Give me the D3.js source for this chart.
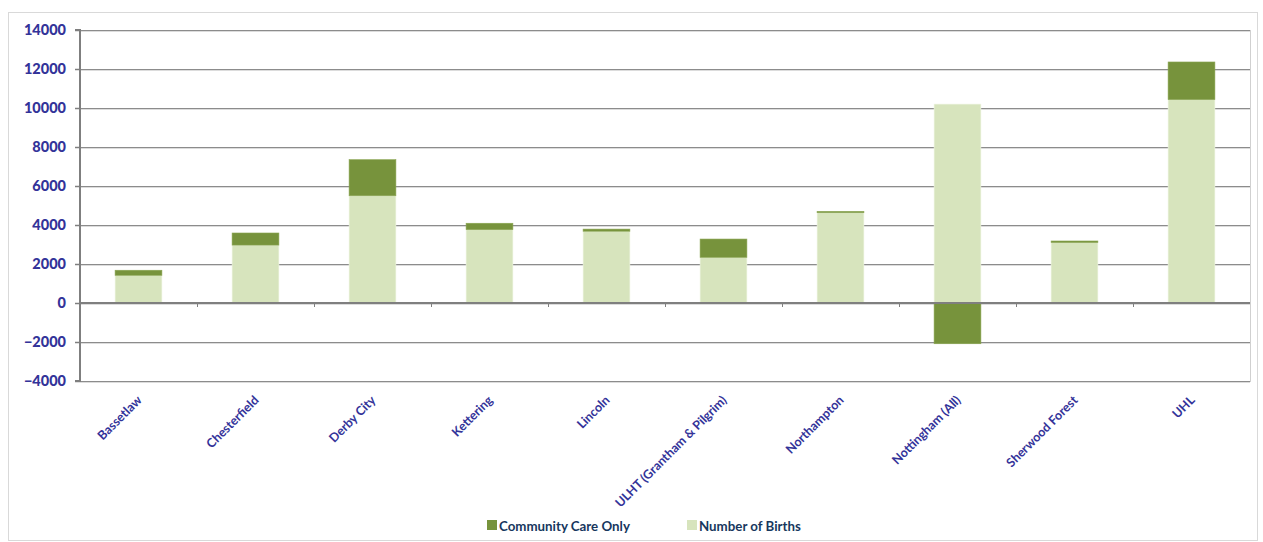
<!DOCTYPE html>
<html><head><meta charset="utf-8">
<script src="https://cdn.jsdelivr.net/npm/d3@7"></script>
<style>body{margin:0;background:#fff;}svg{display:block;}</style>
</head><body><svg id="c" width="1263" height="542"></svg>
<script>
const categories = ["Bassetlaw","Chesterfield","Derby City","Kettering","Lincoln","ULHT (Grantham & Pilgrim)","Northampton","Nottingham (All)","Sherwood Forest","UHL"];
const births = [1420, 2970, 5500, 3760, 3680, 2340, 4630, 10200, 3100, 10430];
const communityCare = [260, 620, 1850, 330, 110, 940, 70, -2090, 80, 1930];
const yTicks = [-4000,-2000,0,2000,4000,6000,8000,10000,12000,14000];
const seriesNames = ["Community Care Only","Number of Births"];

const svg = d3.select("#c");
const L = 80, R = 1250, T = 30, B = 381;
const x = d3.scaleBand().domain(categories).range([L, R]).paddingInner(0.6).paddingOuter(0.3);
const xb = d3.scaleBand().domain(categories).range([L, R]);
const y = d3.scaleLinear().domain([-4000, 14000]).range([B, T]);

// outer border
svg.append("rect").attr("x",8.5).attr("y",12.5).attr("width",1249).attr("height",528).attr("fill","none").attr("stroke","#d9d9d9");

// gridlines
const g = svg.append("g");
yTicks.forEach(t => {
  g.append("line").attr("x1",L).attr("x2",R).attr("y1",y(t)+1.5).attr("y2",y(t)+1.5).attr("stroke","#dcdcdc").attr("stroke-width",1);
  g.append("line").attr("x1",L).attr("x2",R).attr("y1",y(t)+0.5).attr("y2",y(t)+0.5).attr("stroke","#8c8c8c").attr("stroke-width",1);
});
// right border of plot
svg.append("line").attr("x1",R+0.5).attr("x2",R+0.5).attr("y1",T).attr("y2",B+1).attr("stroke","#d0d0d0");

// stacked data
const rows = categories.map((c,i)=>({cat:c, births:births[i], cco:communityCare[i]}));
const stack = d3.stack().keys(["births","cco"]).offset(d3.stackOffsetDiverging);
const stacked = stack(rows);
const colors = {births:"#D7E4BD", cco:"#77933C"};
stacked.forEach(s => {
  svg.append("g").selectAll("rect").data(s).join("rect")
    .attr("x", d=>x(d.data.cat))
    .attr("width", x.bandwidth())
    .attr("y", d=>y(Math.max(d[0],d[1])))
    .attr("height", d=>Math.abs(y(d[0])-y(d[1])))
    .attr("fill", colors[s.key])
    .attr("stroke", s.key==="births" ? "#eef4e2" : "#8aa552")
    .attr("stroke-width", 0.6);
});

// zero axis line
svg.append("line").attr("x1",L).attr("x2",R).attr("y1",y(0)).attr("y2",y(0)).attr("stroke","#7f7f7f").attr("stroke-width",2);
// x tick marks at category boundaries
categories.forEach((c,i)=>{
  if(i===0) return;
  const xx = Math.round(xb(c))+0.5;
  svg.append("line").attr("x1",xx).attr("x2",xx).attr("y1",y(0)).attr("y2",y(0)+4).attr("stroke","#7f7f7f");
});

// y axis
const yAxis = d3.axisLeft(y).tickValues(yTicks).tickSize(5).tickPadding(9).tickFormat(d3.format("d"));
const ya = svg.append("g").attr("transform",`translate(${L},0)`).call(yAxis);
ya.select(".domain").attr("stroke","#7f7f7f").attr("stroke-width",2).attr("d",`M-5,${T}H0V${B}H-5`);
ya.selectAll(".tick line").attr("stroke","#7f7f7f").attr("stroke-width",1.5);
ya.selectAll(".tick text").attr("fill","#333399").attr("font-family","Lato, 'Open Sans', sans-serif").attr("font-weight","900").attr("font-size","14.5px").attr("dy","0.34em");

// x labels
svg.append("g").selectAll("text").data(categories).join("text")
  .attr("transform", d=>`translate(${xb(d)+xb.bandwidth()/2+4},${B+20}) rotate(-45)`)
  .attr("text-anchor","end")
  .attr("fill","#333399")
  .attr("font-family","Lato, 'Open Sans', sans-serif")
  .attr("font-weight","bold")
  .attr("font-size","12.5px")
  .text(d=>d);

// legend
const legend = [{name:seriesNames[0], color:colors.cco, x:487},{name:seriesNames[1], color:colors.births, x:687}];
legend.forEach(l=>{
  svg.append("rect").attr("x",l.x).attr("y",520).attr("width",10).attr("height",10).attr("fill",l.color);
  svg.append("text").attr("x",l.x+12).attr("y",530.5).attr("fill","#17375E")
    .attr("font-family","Lato, 'Open Sans', sans-serif").attr("font-weight","bold").attr("font-size","13.3px").text(l.name);
});
</script></body></html>
